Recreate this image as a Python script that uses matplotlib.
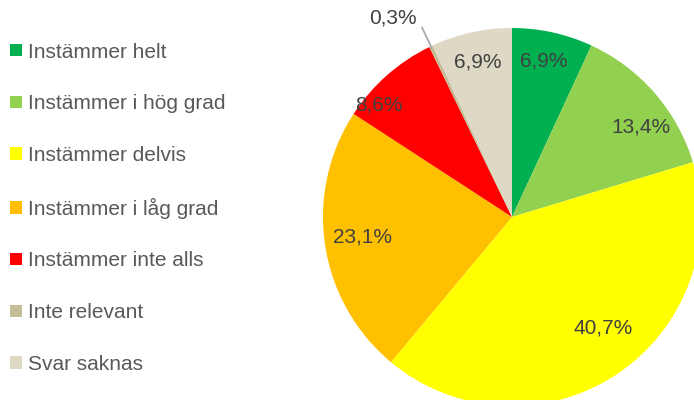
import matplotlib.pyplot as plt
import numpy as np
from matplotlib.patches import Patch

categories = [
    "Instämmer helt",
    "Instämmer i hög grad",
    "Instämmer delvis",
    "Instämmer i låg grad",
    "Instämmer inte alls",
    "Inte relevant",
    "Svar saknas",
]
shares = [6.9, 13.4, 40.7, 23.1, 8.6, 0.3, 6.9]
colors = ["#00B050", "#92D050", "#FFFF00", "#FFC000", "#FF0000", "#C4BD97", "#DDD9C4"]

# label placement (radius as fraction of pie radius, angle nudge in degrees)
label_r = [0.84, 0.83, 0.76, 0.80, 0.92, 1.23, 0.84]
label_nudge = [1, -6, 6, -1, 8.5, 5.5, 0]

plt.rcParams["font.family"] = ["Liberation Sans", "DejaVu Sans"]

fig = plt.figure(figsize=(6.94, 4.0), dpi=100)
# pie is larger than the figure and gets cut at the bottom and right
ax = fig.add_axes([323 / 694, -6 / 400, 378 / 694, 378 / 400])

wedges, texts = ax.pie(
    shares,
    colors=colors,
    startangle=90,
    counterclock=False,
    radius=1.0,
    wedgeprops=dict(linewidth=0),
)

for wedge, value, r, nudge in zip(wedges, shares, label_r, label_nudge):
    mid_deg = (wedge.theta1 + wedge.theta2) / 2
    mid = np.deg2rad(mid_deg)
    pos = np.deg2rad(mid_deg + nudge)
    label = f"{value:.1f}%".replace(".", ",")
    if r > 1:
        # small slice: leader line to the outside label
        ax.plot([0.99 * np.cos(mid), 1.11 * np.cos(mid)],
                [0.99 * np.sin(mid), 1.11 * np.sin(mid)],
                color="#A6A6A6", lw=1.2, clip_on=False)
    ax.text(r * np.cos(pos), r * np.sin(pos), label,
            ha="center", va="center", fontsize=15, color="#404040")

ax.set_xlim(-1, 1)
ax.set_ylim(-1, 1)
ax.set_aspect("equal")
ax.set_axis_off()

handles = [Patch(facecolor=c, edgecolor="none") for c in colors]
fig.legend(
    handles,
    categories,
    loc="upper left",
    bbox_to_anchor=(-0.006, 0.93),
    frameon=False,
    fontsize=15,
    labelcolor="#595959",
    handlelength=0.55,
    handleheight=0.55,
    handletextpad=0.3,
    labelspacing=1.57,
    borderaxespad=0.3,
)

fig.savefig("out.png", dpi=100)
